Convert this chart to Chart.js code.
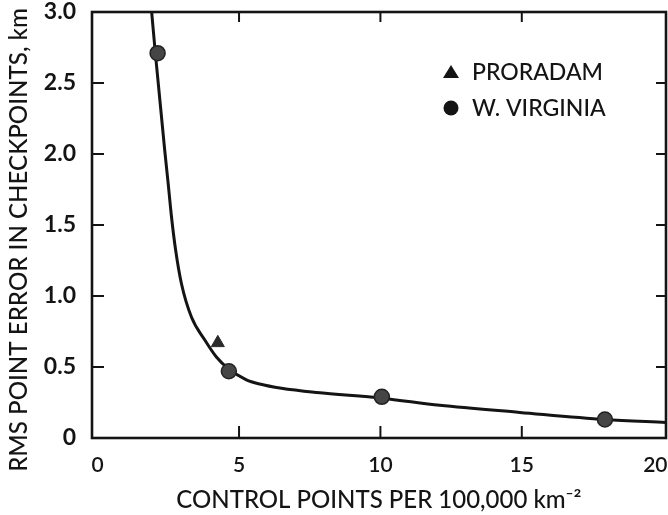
<!DOCTYPE html>
<html>
<head>
<meta charset="utf-8">
<script src="https://cdn.jsdelivr.net/npm/chart.js@4.4.1/dist/chart.umd.min.js"></script>
<style>
  html, body { margin: 0; padding: 0; background: #ffffff; }
  #wrap { width: 668px; height: 515px; position: relative; }
</style>
</head>
<body>
<div id="wrap"><canvas id="c" width="668" height="515"></canvas></div>
<script>
// ---- data ----
const xTicks = [0, 5, 10, 15, 20];
const yTicks = [0, 0.5, 1.0, 1.5, 2.0, 2.5, 3.0];

// fitted curve
const curveX = [1.91, 2.04, 2.37, 2.49, 2.61, 2.76, 2.96, 3.32, 3.79, 4.20, 4.61, 5.26, 5.73, 6.5, 7.75, 10.05, 12.1, 14.93, 17.94, 20.1];
const curveY = [3.00, 2.71, 2.03, 1.80, 1.56, 1.32, 1.09, 0.85, 0.69, 0.57, 0.49, 0.41, 0.38, 0.35, 0.32, 0.28, 0.23, 0.18, 0.13, 0.11];

// PRORADAM (triangle)
const proradamX = [4.25];
const proradamY = [0.67];

// W. VIRGINIA (circles)
const virginiaX = [2.12, 4.64, 10.05, 17.94];
const virginiaY = [2.71, 0.47, 0.29, 0.13];

const legendLabels = ['PRORADAM', 'W. VIRGINIA'];
const xTitle = 'CONTROL POINTS PER 100,000 km\u207B\u00B2';
const yTitle = 'RMS POINT ERROR IN CHECKPOINTS, km';

const toPts = (xs, ys) => xs.map((x, i) => ({ x: x, y: ys[i] }));
const INK = '#141414';

const framePlugin = {
  id: 'frame',
  afterDraw(chart) {
    const { ctx, chartArea: a, scales } = chart;
    const xs = scales.x, ys = scales.y;
    ctx.save();
    ctx.strokeStyle = INK;
    ctx.lineWidth = 2.6;
    ctx.strokeRect(a.left, a.top, a.right - a.left, a.bottom - a.top);
    ctx.lineWidth = 2;
    // inward ticks, y
    yTicks.forEach(v => {
      if (v === 0 || v === 3) return;
      const p = ys.getPixelForValue(v);
      ctx.beginPath(); ctx.moveTo(a.left, p); ctx.lineTo(a.left + 12, p); ctx.stroke();
      ctx.beginPath(); ctx.moveTo(a.right, p); ctx.lineTo(a.right - 10, p); ctx.stroke();
    });
    // inward ticks, x
    xTicks.forEach(v => {
      if (v === 0 || v === 20) return;
      const p = xs.getPixelForValue(v);
      ctx.beginPath(); ctx.moveTo(p, a.bottom); ctx.lineTo(p, a.bottom - 12); ctx.stroke();
      ctx.beginPath(); ctx.moveTo(p, a.top); ctx.lineTo(p, a.top + 10); ctx.stroke();
    });

    // y axis title (rotated)
    ctx.fillStyle = INK;
    ctx.textAlign = 'center';
    ctx.textBaseline = 'middle';
    let fs = 22;
    ctx.font = '500 ' + fs + 'px Lato';
    const w = ctx.measureText(yTitle).width;
    fs = fs * 464 / w;
    ctx.font = '500 ' + fs.toFixed(2) + 'px Lato';
    ctx.translate(19, 240);
    ctx.rotate(-Math.PI / 2);
    ctx.fillText(yTitle, 0, 0);
    ctx.restore();

    // legend
    ctx.save();
    ctx.fillStyle = INK;
    ctx.font = '500 23px Lato';
    ctx.textAlign = 'left';
    ctx.textBaseline = 'middle';
    const tx = 451, ty = 72;
    ctx.beginPath();
    ctx.moveTo(tx, ty - 7); ctx.lineTo(tx + 8, ty + 6); ctx.lineTo(tx - 8, ty + 6); ctx.closePath();
    ctx.fill();
    ctx.fillText(legendLabels[0], 472, 73);
    ctx.beginPath(); ctx.arc(451, 108, 7.5, 0, Math.PI * 2); ctx.fill();
    ctx.fillText(legendLabels[1], 472, 109);
    ctx.restore();
  }
};

new Chart(document.getElementById('c'), {
  type: 'scatter',
  data: {
    datasets: [
      {
        label: 'curve',
        data: toPts(curveX, curveY),
        showLine: true,
        borderColor: INK,
        borderWidth: 3,
        pointRadius: 0,
        cubicInterpolationMode: 'monotone',
        order: 3
      },
      {
        label: legendLabels[0],
        data: toPts(proradamX, proradamY),
        pointStyle: 'triangle',
        pointRadius: 7.5,
        backgroundColor: '#2a2a2a',
        borderColor: '#2a2a2a',
        borderWidth: 1,
        order: 1
      },
      {
        label: legendLabels[1],
        data: toPts(virginiaX, virginiaY),
        pointStyle: 'circle',
        pointRadius: 7.5,
        backgroundColor: '#454545',
        borderColor: '#222222',
        borderWidth: 1.5,
        order: 2
      }
    ]
  },
  options: {
    responsive: false,
    animation: false,
    events: [],
    layout: { autoPadding: false, padding: { top: 12, right: 2, left: 0, bottom: 0 } },
    plugins: { legend: { display: false }, tooltip: { enabled: false } },
    scales: {
      x: {
        type: 'linear',
        min: -0.2,
        max: 20.1,
        afterBuildTicks: (s) => { s.ticks = xTicks.map(v => ({ value: v })); },
        afterFit: (s) => { s.height = 77; s.paddingLeft = 0; s.paddingRight = 0; },
        grid: { display: false },
        border: { display: false },
        ticks: {
          color: INK,
          padding: 7,
          maxRotation: 0,
          autoSkip: false,
          font: { family: 'Lato', size: 21, weight: '600' },
          callback: (v) => (v === 20 ? '20\u00A0\u00A0\u00A0' : String(v))
        },
        title: {
          display: true,
          text: xTitle,
          color: INK,
          padding: { top: 0, bottom: 0 },
          font: { family: 'Lato', size: 24, weight: '500' }
        }
      },
      y: {
        type: 'linear',
        min: 0,
        max: 3,
        afterBuildTicks: (s) => { s.ticks = yTicks.map(v => ({ value: v })); },
        afterFit: (s) => { s.width = 92; s.paddingTop = 0; s.paddingBottom = 0; },
        grid: { display: false },
        border: { display: false },
        ticks: {
          color: INK,
          padding: 8,
          autoSkip: false,
          font: { family: 'Lato', size: 23, weight: 'bold' },
          callback: (v) => (v === 0 ? '0' : v.toFixed(1))
        }
      }
    }
  },
  plugins: [framePlugin]
});
</script>
</body>
</html>
